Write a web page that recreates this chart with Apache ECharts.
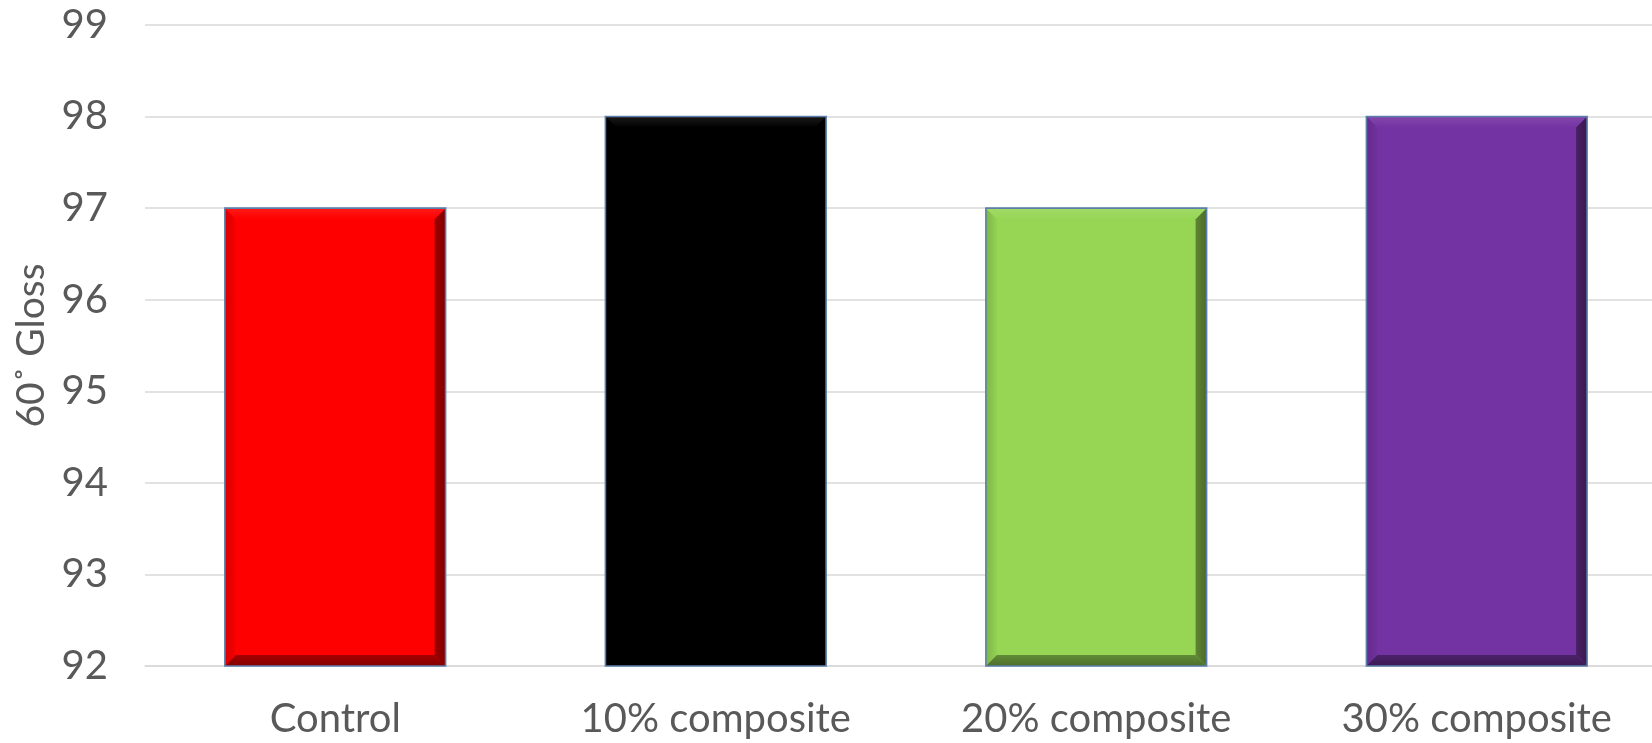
<!DOCTYPE html>
<html>
<head>
<meta charset="utf-8">
<style>
html,body{margin:0;padding:0;background:#fff;}
#chart{width:1652px;height:743px;}
</style>
<script src="https://cdn.jsdelivr.net/npm/echarts@6/dist/echarts.min.js"></script>
</head>
<body>
<div id="chart"></div>
<script>
const categories = ['Control', '10% composite', '20% composite', '30% composite'];
const glossValues = [97, 98, 97, 98];
const barColors = ['#FF0000', '#000000', '#97D655', '#7433A2'];
const yTicks = [92, 93, 94, 95, 96, 97, 98, 99];
const yAxisTitle = '60˚ Gloss';

const Y_MIN = yTicks[0], Y_MAX = yTicks[yTicks.length - 1];
const FONT = 'Lato, "Open Sans", sans-serif';

function shade(hex, f) {
  const n = parseInt(hex.slice(1), 16);
  let r = (n >> 16) & 255, g = (n >> 8) & 255, b = n & 255;
  if (f < 0) { r = r * (1 + f); g = g * (1 + f); b = b * (1 + f); }
  else { r = r + (255 - r) * f; g = g + (255 - g) * f; b = b + (255 - b) * f; }
  return 'rgb(' + Math.round(r) + ',' + Math.round(g) + ',' + Math.round(b) + ')';
}

const chart = echarts.init(document.getElementById('chart'), null, {renderer: 'canvas'});

chart.setOption({
  backgroundColor: '#ffffff',
  animation: false,
  grid: {left: 145, top: 25, width: 1522, bottom: 77, containLabel: false, outerBoundsMode: 'none'},
  xAxis: {
    type: 'category',
    data: categories,
    axisLine: {show: true, lineStyle: {color: '#d9d9d9', width: 1.5}},
    axisTick: {show: false},
    axisLabel: {color: '#595959', fontSize: 40, fontFamily: FONT, margin: 33, interval: 0}
  },
  yAxis: {
    type: 'value',
    min: Y_MIN, max: Y_MAX, interval: 1,
    name: yAxisTitle,
    nameLocation: 'middle',
    nameRotate: 90,
    nameGap: 94,
    nameTextStyle: {color: '#595959', fontSize: 39, fontFamily: FONT},
    axisLine: {show: false},
    axisTick: {show: false},
    splitLine: {show: true, lineStyle: {color: '#d9d9d9', width: 1.5}},
    axisLabel: {color: '#595959', fontSize: 40, fontFamily: FONT, margin: 37,
      formatter: v => yTicks.indexOf(v) >= 0 ? String(v) : ''}
  },
  series: [{
    type: 'custom',
    data: glossValues.map((v, i) => [i, v]),
    renderItem: function (params, api) {
      const idx = api.value(0), val = api.value(1);
      const topPt = api.coord([idx, val]);
      const basePt = api.coord([idx, Y_MIN]);
      const bw = api.size([1, 0])[0] * 0.58;
      const L = topPt[0] - bw / 2, R = L + bw, T = topPt[1], B = basePt[1];
      const bev = 11;
      const c = barColors[idx];
      const grad = (x1, y1, x2, y2, c1, c2) => ({type: 'linear', x: x1, y: y1, x2: x2, y2: y2,
        colorStops: [{offset: 0, color: c1}, {offset: 1, color: c2}]});
      return {
        type: 'group',
        children: [
          {type: 'rect', shape: {x: L, y: T, width: bw, height: B - T}, style: {fill: c}},
          {type: 'polygon', shape: {points: [[L, T], [R, T], [R - bev, T + bev], [L + bev, T + bev]]},
            style: {fill: grad(0, 0, 0, 1, shade(c, 0.1), c)}},
          {type: 'polygon', shape: {points: [[L, T], [L + bev, T + bev], [L + bev, B - bev], [L, B]]},
            style: {fill: grad(0, 0, 1, 0, shade(c, -0.15), shade(c, -0.03))}},
          {type: 'polygon', shape: {points: [[R, T], [R, B], [R - bev, B - bev], [R - bev, T + bev]]},
            style: {fill: grad(0, 0, 1, 0, shade(c, -0.38), shade(c, -0.5))}},
          {type: 'polygon', shape: {points: [[L, B], [R, B], [R - bev, B - bev], [L + bev, B - bev]]},
            style: {fill: grad(0, 0, 0, 1, shade(c, -0.35), shade(c, -0.48))}},
          {type: 'rect', shape: {x: L, y: T, width: bw, height: B - T},
            style: {fill: 'none', stroke: '#5b7fab', lineWidth: 1.6}}
        ]
      };
    }
  }]
});
</script>
</body>
</html>
